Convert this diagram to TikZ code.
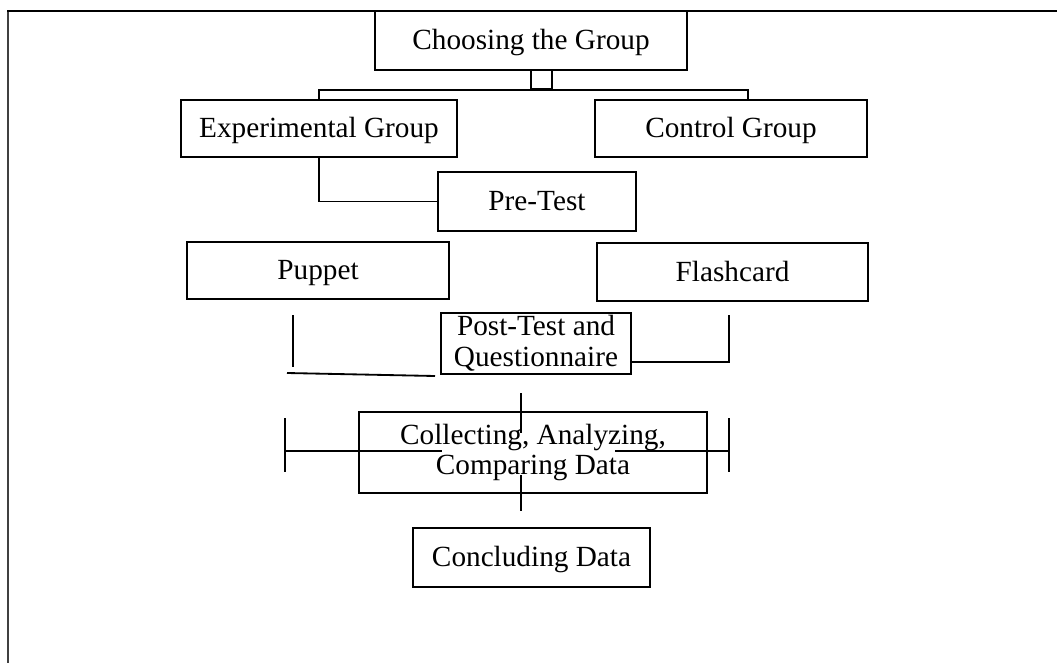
\documentclass[tikz,border=0pt]{standalone}
\usepackage{fontspec}
\setmainfont{Liberation Serif}
\usetikzlibrary{calc}

\begin{document}
\begin{tikzpicture}[x=0.025cm,y=-0.025cm,
	box/.style={draw,line width=1.5pt,inner sep=0pt,align=center,font=\fontsize{20.8}{22}\selectfont},
	oneline/.style={box,text height=15pt,text depth=1.6pt},
	wire/.style={line width=1.3pt}]
				\useasboundingbox (0,0) rectangle (1057,663);
				%outer frame, only top and left edge
				\draw [line width=1.8pt,black!75] (8,663) -- (8,11);
				\draw [line width=1.8pt](7,11) -- (1057,11);
				%%boxes placed by hand
				\node[oneline,minimum width=7.8cm,minimum height=1.475cm] (choose) at (531,40.5){Choosing the Group};
				\node[draw,line width=1.5pt,inner sep=0pt,minimum width=0.525cm,minimum height=0.475cm] (link) at (541.5,79.5){};
				\node[oneline,minimum width=6.9cm,minimum height=1.425cm] (exp) at (319,128.5){Experimental Group};
				\node[oneline,minimum width=6.8cm,minimum height=1.425cm] (ctrl) at (731,128.5){Control Group};
				\node[oneline,minimum width=4.95cm,minimum height=1.475cm] (pre) at (537,201.5){Pre-Test};
				\node[oneline,minimum width=6.55cm,minimum height=1.425cm] (puppet) at (318,270.5){Puppet};
				\node[oneline,minimum width=6.775cm,minimum height=1.45cm] (flash) at (732.5,272){Flashcard};
				\node[box,minimum width=4.75cm,minimum height=1.525cm] (post) at (536,343.5){Post-Test and\\Questionnaire};
				\node[box,minimum width=8.7cm,minimum height=2.025cm] (coll) at (533,452.5){Collecting, Analyzing,\\Comparing Data};
				\node[oneline,minimum width=5.925cm,minimum height=1.475cm] (concl) at (531.5,557.5){Concluding Data};
				%% loose ends of the stray lines
				\coordinate (pa) at (293,315);\coordinate (pb) at (293,367);
				\coordinate (pc) at (287,373);\coordinate (pd) at (435,376);
				\coordinate (fa) at (729,315);
				\coordinate (ca) at (521,393);\coordinate (cb) at (521,433);
				\coordinate (cc) at (521,475);\coordinate (cd) at (521,511);
				\coordinate (la) at (285,418);\coordinate (lb) at (285,472);
				\coordinate (lc) at (285,451);\coordinate (ld) at (442,451);
				\coordinate (ra) at (729,418);\coordinate (rb) at (729,472);
				\coordinate (rc) at (615,451);\coordinate (rd) at (729,451);
				%% top branching
				\draw [wire](exp.north) |- (link.south);
				\draw [wire](link.south) -| ($(ctrl.north)+(17,0)$);
				\draw [wire](exp.south) |- (pre.west);
				%% lines round the post-test
				\draw [wire](pa) -- (pb);
				\draw [wire](pc) -- (pd);
				\draw [wire]($(post.south east)+(0,-13)$) -| (fa);
				%% lines round the data box
				\draw [wire](ca) -- (cb);
				\draw [wire](cc) -- (cd);
				\draw [wire](la) -- (lb);
				\draw [wire](lc) -- (ld);
				\draw [wire](ra) -- (rb);
				\draw [wire](rc) -- (rd);

				\end{tikzpicture}
\end{document}
